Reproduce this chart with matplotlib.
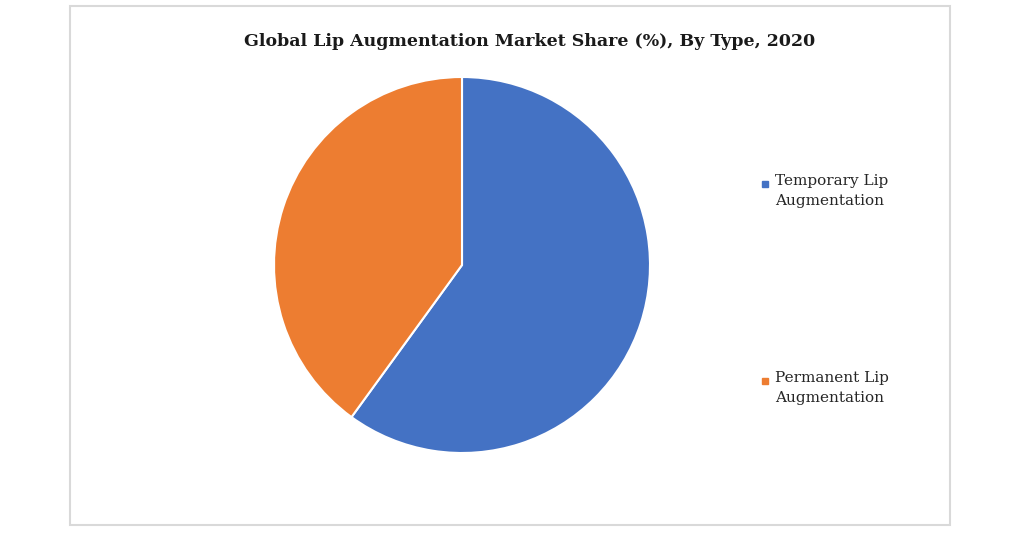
import matplotlib.pyplot as plt
from matplotlib.patches import Rectangle

# dados
categorias = ['Temporary Lip\nAugmentation', 'Permanent Lip\nAugmentation']
valores = [60, 40]
cores = ['#4472C4', '#ED7D31']
titulo = 'Global Lip Augmentation Market Share (%), By Type, 2020'

fig = plt.figure(figsize=(10.24, 5.36), dpi=100)

# moldura do grafico
fig.patches.append(Rectangle((70 / 1024, 1 - 525 / 536), 880 / 1024, 519 / 536,
                             transform=fig.transFigure, fill=False,
                             edgecolor='#d9d9d9', linewidth=1.5))

ax = fig.add_axes([274 / 1024, 83 / 536, 376 / 1024, 376 / 536])
fatias, _ = ax.pie(valores, colors=cores, startangle=90, counterclock=False,
                   wedgeprops=dict(edgecolor='white', linewidth=1.5))
ax.set_xlim(-1, 1)
ax.set_ylim(-1, 1)
ax.set_aspect('equal')

fig.text(530 / 1024, 1 - 41 / 536, titulo, ha='center', va='center',
         fontsize=12.5, fontweight='bold', family='DejaVu Serif', color='#1a1a1a')

# legenda
ys = [184, 381]
for nome, cor, y in zip(categorias, cores, ys):
    fig.patches.append(Rectangle((762 / 1024, 1 - (y + 3) / 536), 6 / 1024, 6 / 536,
                                 transform=fig.transFigure, color=cor))
    fig.text(775 / 1024, 1 - (y - 10) / 536, nome, ha='left', va='top',
             fontsize=11, family='DejaVu Serif', color='#262626', linespacing=1.55)

fig.savefig('out.png', dpi=100)
